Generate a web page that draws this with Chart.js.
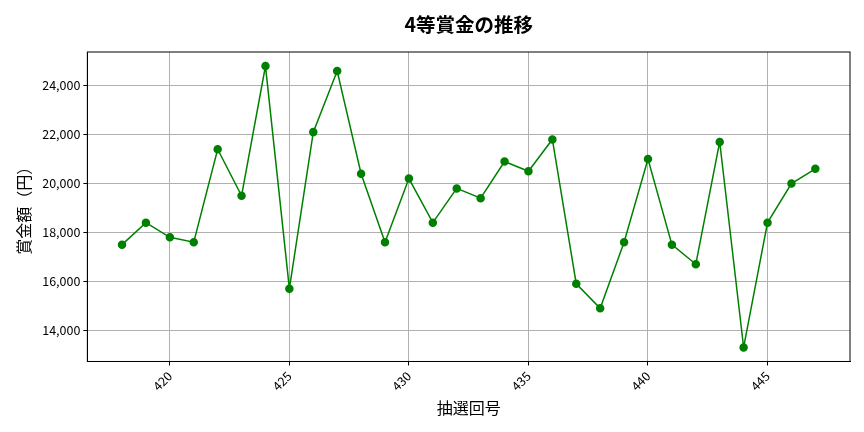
<!doctype html>
<html>
  <head>
    <script src="https://cdn.jsdelivr.net/npm/chart.js"></script>
    <style>
      body { margin: 0; background: #fff; }
      #wrap { width: 864px; height: 432px; }
    </style>
  </head>
  <body>
    <div id="wrap"><canvas id="PrizeChart"></canvas></div>
    <script>
    // 抽選回 and 4等賞金 (円)
    var rounds = [418, 419, 420, 421, 422, 423, 424, 425, 426, 427, 428, 429, 430, 431, 432,
                  433, 434, 435, 436, 437, 438, 439, 440, 441, 442, 443, 444, 445, 446, 447];
    var prizes = [17500, 18400, 17800, 17600, 21400, 19500, 24800, 15700, 22100, 24600, 20400, 17600, 20200, 18400, 19800,
                  19400, 20900, 20500, 21800, 15900, 14900, 17600, 21000, 17500, 16700, 21700, 13300, 18400, 20000, 20600];
    var xTicks = [420, 425, 430, 435, 440, 445];
    var yTicks = [14000, 16000, 18000, 20000, 22000, 24000];
    var chartTitle = '4等賞金の推移';

    var font = "'Noto Sans CJK JP', 'Noto Sans', sans-serif";
    var points = [];
    for (var i = 0; i < rounds.length; i++) {
      points.push({ x: rounds[i], y: prizes[i] });
    }

    // full box around the plot + title centred over the plot area
    var boxPlugin = {
      id: 'box',
      afterDraw: function(chart) {
        var a = chart.chartArea;
        var c = chart.ctx;
        c.save();
        c.strokeStyle = '#000';
        c.lineWidth = 1;
        c.strokeRect(a.left, a.top, a.right - a.left, a.bottom - a.top);
        c.fillStyle = '#000';
        c.font = "bold 19.5px " + font;
        c.textAlign = 'center';
        c.textBaseline = 'middle';
        c.fillText(chartTitle, (a.left + a.right) / 2, 25);
        c.restore();
      }
    };

    var ctx = document.getElementById("PrizeChart");
    var myChart = new Chart(ctx, {
      type: 'line',
      data: {
        datasets: [{
          data: points,
          borderColor: "green",
          backgroundColor: "green",
          borderWidth: 1.5,
          pointRadius: 3.5,
          pointHoverRadius: 3.5,
          tension: 0
        }]
      },
      options: {
        responsive: true,
        maintainAspectRatio: false,
        animation: false,
        layout: { padding: { left: 10, right: 14, top: 52, bottom: 10 } },
        plugins: {
          legend: { display: false },
          tooltip: { enabled: false },
          title: { display: false }
        },
        scales: {
          x: {
            type: 'linear',
            min: 416.55,
            max: 448.45,
            afterBuildTicks: function(axis) {
              axis.ticks = xTicks.map(function(v) { return { value: v }; });
            },
            ticks: {
              color: '#000',
              minRotation: 45,
              maxRotation: 45,
              font: { family: font, size: 12.5 },
              callback: function(v) { return v; }
            },
            grid: { color: '#b0b0b0', tickColor: '#000', tickLength: 4 },
            border: { color: '#000', width: 1 },
            title: {
              display: true,
              text: '抽選回号',
              color: '#000',
              font: { family: font, size: 16 },
              padding: { top: 2 }
            }
          },
          y: {
            min: 12725,
            max: 25375,
            afterBuildTicks: function(axis) {
              axis.ticks = yTicks.map(function(v) { return { value: v }; });
            },
            ticks: {
              color: '#000',
              font: { family: font, size: 12.5 },
              callback: function(v) { return v.toLocaleString('en-US'); }
            },
            grid: { color: '#b0b0b0', tickColor: '#000', tickLength: 4 },
            border: { color: '#000', width: 1 },
            title: {
              display: true,
              text: '賞金額（円）',
              color: '#000',
              font: { family: font, size: 16 },
              padding: { bottom: 6 }
            }
          }
        }
      },
      plugins: [boxPlugin]
    });
    </script>
  </body>
</html>
